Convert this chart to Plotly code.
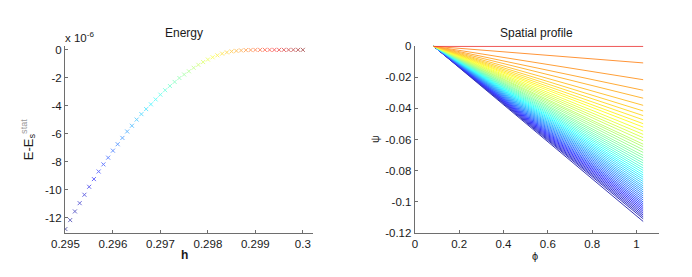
import numpy as np
import plotly.graph_objects as go

# ---------------- data ----------------
h_values = [0.2950, 0.2951, 0.2952, 0.2953, 0.2954, 0.2955, 0.2956, 0.2957, 0.2958, 0.2959,
            0.2960, 0.2961, 0.2962, 0.2963, 0.2964, 0.2965, 0.2966, 0.2967, 0.2968, 0.2969,
            0.2970, 0.2971, 0.2972, 0.2973, 0.2974, 0.2975, 0.2976, 0.2977, 0.2978, 0.2979,
            0.2980, 0.2981, 0.2982, 0.2983, 0.2984, 0.2985, 0.2986, 0.2987, 0.2988, 0.2989,
            0.2990, 0.2991, 0.2992, 0.2993, 0.2994, 0.2995, 0.2996, 0.2997, 0.2998, 0.2999,
            0.3000]
energy_e6 = [-12.8, -12.16, -11.54, -10.95, -10.35, -9.78, -9.23, -8.69, -8.18, -7.70,
             -7.2, -6.74, -6.29, -5.83, -5.42, -4.98, -4.59, -4.23, -3.89, -3.54,
             -3.2, -2.88, -2.58, -2.29, -2.01, -1.76, -1.53, -1.28, -1.07, -0.87,
             -0.69, -0.53, -0.39, -0.27, -0.18, -0.11, -0.07, -0.04, -0.02, -0.01,
             0, 0, 0, 0, 0, 0, 0, 0, 0, 0, 0]

phi_start = 0.085
phi_end = 1.03
psi_end = [0, -0.0107, -0.0215, -0.0283, -0.0334, -0.038, -0.0416, -0.0446, -0.0473, -0.0498,
           -0.052, -0.0545, -0.0567, -0.0588, -0.0608, -0.063, -0.0646, -0.0665, -0.0683, -0.0702,
           -0.0718, -0.0735, -0.0751, -0.0767, -0.0783, -0.0798, -0.0813, -0.0828, -0.0842, -0.0856,
           -0.0870, -0.0884, -0.0898, -0.0911, -0.0924, -0.0937, -0.0950, -0.0963, -0.0976, -0.0989,
           -0.1002, -0.1014, -0.1026, -0.1038, -0.1050, -0.1062, -0.1074, -0.1086, -0.1098, -0.1110,
           -0.1127]

left_xticks = [0.295, 0.296, 0.297, 0.298, 0.299, 0.3]
left_xticklabels = ["0.295", "0.296", "0.297", "0.298", "0.299", "0.3"]
left_yticks = [0, -2, -4, -6, -8, -10, -12]
left_yticklabels = ["0", "-2", "-4", "-6", "-8", "-10", "-12"]
right_xticks = [0, 0.2, 0.4, 0.6, 0.8, 1.0]
right_xticklabels = ["0", "0.2", "0.4", "0.6", "0.8", "1"]
right_yticks = [0, -0.02, -0.04, -0.06, -0.08, -0.1, -0.12]
right_yticklabels = ["0", "-0.02", "-0.04", "-0.06", "-0.08", "-0.1", "-0.12"]


# ---------------- styling helpers ----------------
def jet(t, w):
    r = min(max(1.5 - abs(4 * t - 3), 0), 1)
    g = min(max(1.5 - abs(4 * t - 2), 0), 1)
    b = min(max(1.5 - abs(4 * t - 1), 0), 1)
    r, g, b = [c + (1 - c) * w for c in (r, g, b)]
    return "rgb(%d,%d,%d)" % (round(r * 255), round(g * 255), round(b * 255))


W, H = 692, 277
FONT = "Liberation Sans, Arial, sans-serif"
AX = "#6e6e6e"

fig = go.Figure()

# left: energy markers
hmin, hmax = min(h_values), max(h_values)
mcolors = [jet((h - hmin) / (hmax - hmin), 0.42) for h in h_values]
fig.add_trace(go.Scatter(
    x=h_values, y=energy_e6, mode="markers", xaxis="x", yaxis="y",
    marker=dict(symbol="x-thin", size=4, color=mcolors,
                line=dict(width=1, color=mcolors)),
    showlegend=False, hoverinfo="skip"))

# right: spatial profiles
n = len(psi_end)
for i in range(n - 1, -1, -1):
    t = 0.9 if i == 0 else 0.76 - (i - 1) * 0.73 / (n - 2)
    fig.add_trace(go.Scatter(
        x=[phi_start, phi_end], y=[0, psi_end[i]], mode="lines",
        xaxis="x2", yaxis="y2",
        line=dict(color=jet(t, 0.22), width=1),
        showlegend=False, hoverinfo="skip"))

axis_common = dict(showgrid=False, zeroline=False, showline=True, linecolor=AX,
                   linewidth=1, ticks="inside", ticklen=3, tickcolor=AX,
                   tickfont=dict(family=FONT, size=11.5, color="#1a1a1a"),
                   mirror=False)

y_bot = 1 - 237.7 / H
y_top = 1 - 42.5 / H

fig.update_layout(
    width=W, height=H,
    margin=dict(l=0, r=0, t=0, b=0),
    paper_bgcolor="white", plot_bgcolor="white",
    font=dict(family=FONT, size=11, color="#1a1a1a"),
    xaxis=dict(domain=[52 / W, 305 / W], range=[0.29499, 0.30021],
               tickvals=left_xticks, ticktext=left_xticklabels, anchor="y", **axis_common),
    yaxis=dict(domain=[y_bot, y_top], range=[-13.1, 0.29],
               tickvals=left_yticks, ticktext=left_yticklabels, anchor="x", **axis_common),
    xaxis2=dict(domain=[409 / W, 658 / W], range=[-0.0005, 1.1],
                tickvals=right_xticks, ticktext=right_xticklabels, anchor="y2", **axis_common),
    yaxis2=dict(domain=[y_bot, y_top], range=[-0.1203, 0.0003],
                tickvals=right_yticks, ticktext=right_yticklabels, anchor="x2", **axis_common),
)

ann = [
    dict(text="Energy", x=174 / W, y=1 - 29 / H, font=dict(size=12)),
    dict(text="Spatial profile", x=533 / W, y=1 - 29 / H, font=dict(size=12)),
    dict(text="x 10<sup>-6</sup>", x=50 / W, y=1 - 33 / H, xanchor="left", font=dict(size=11.5)),
    dict(text="<b>h</b>", x=174 / W, y=1 - 260 / H, font=dict(size=12)),
    dict(text="E-E<sub>s</sub><sup><span style='color:#999'>stat</span></sup>",
         x=15 / W, y=1 - 140 / H, textangle=-90, font=dict(size=13)),
    dict(text="ψ", x=369 / W, y=1 - 140 / H, textangle=-90, font=dict(size=11)),
    dict(text="ϕ", x=532 / W, y=1 - 261 / H, font=dict(size=11)),
]
for a in ann:
    a.setdefault("xanchor", "center")
    fig.add_annotation(xref="paper", yref="paper", showarrow=False, yanchor="middle",
                       font=dict(family=FONT, color="#1a1a1a", **a.pop("font")), **a)

fig.write_html("out.html", config={"displayModeBar": False},
               post_script="document.body.style.margin='0';document.body.style.padding='0';")
